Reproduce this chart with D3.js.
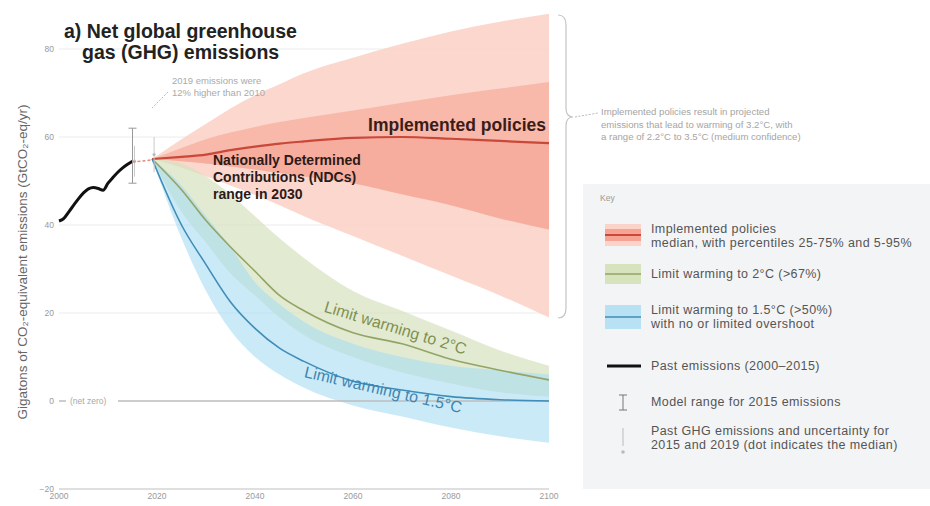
<!DOCTYPE html>
<html><head><meta charset="utf-8">
<script src="https://cdn.jsdelivr.net/npm/d3@7"></script>
<style>body{margin:0;background:#fff}svg{display:block;font-family:"Liberation Sans",Arial,sans-serif}</style>
</head><body><svg id="c" width="930" height="506"></svg>
<script>
// ---- data ----
const histYears = [2000,2001,2002,2003,2004,2005,2006,2007,2008,2009,2010,2011,2012,2013,2014,2015];
const histVals  = [40.9,41.5,43,44.5,46,47.3,48.2,48.5,48.3,47.9,49.5,50.8,52,53,53.8,54.5];
const scenYears = [2019,2025,2030,2035,2040,2045,2050,2060,2070,2080,2090,2100];
const impP5  = [55,53,51,49,46.8,44.5,42,37.5,33,28.5,24,19];
const impP25 = [55,54.5,54,53.3,52.6,51.8,51,49.5,47,44.5,41.5,39];
const impMed = [55,55.5,56,57,57.8,58.5,59,59.8,60,59.6,59.1,58.6];
const impP75 = [55,57.5,59.5,61,62.3,63.4,64.3,66,67.8,69.5,71,72.5];
const impP95 = [55,59.5,63,66.5,69.5,72,74.5,78,81.2,84,86.2,88];
const c2Upper = [55,54,51,47,42,37,32.5,25,20.5,16,11.5,8];
const c2Med   = [55,48,41,35,29.5,24,20.5,15.5,13,9.5,7,4.8];
const c2Lower = [55,43,36,29,24,19,15,10,6.5,4,2,1];
const c15Upper = [55,49,42,35,27,22,18,13,10,8,7,6];
const c15Med   = [55,40,31,22.5,16.5,12,9,4.5,2.5,1,0.3,0];
const c15Lower = [55,37,25,16,10,6,3,-1,-3.5,-6,-8,-9.5];
const yTicks = [-20,0,20,40,60,80];
const xTicks = [2000,2020,2040,2060,2080,2100];
const modelRange2015 = [49.5,62];
const pastUnc = [{year:2015,med:54.5,lo:51,hi:58},{year:2019,med:56,lo:52,hi:60}];

// ---- scales ----
const svg = d3.select("#c");
const x = d3.scaleLinear().domain([2000,2100]).range([59,549]);
const y = d3.scaleLinear().domain([-20,90]).range([489,5]);

const g = svg.append("g");
g.selectAll("line.grid").data(yTicks.filter(v=>v!==0)).join("line")
  .attr("x1",59).attr("x2",549).attr("y1",d=>y(d)).attr("y2",d=>y(d))
  .attr("stroke",d=>d===-20?"#d4d4d4":"#ececec").attr("stroke-width",d=>d===-20?1.5:1);
g.selectAll("text.yt").data(yTicks).join("text")
  .attr("x",54).attr("y",d=>y(d)+3).attr("text-anchor","end")
  .attr("font-size",8.5).attr("fill","#9a9a9a").text(d=>d<0?"\u2212"+Math.abs(d):d);
g.selectAll("text.xt").data(xTicks).join("text")
  .attr("x",d=>x(d)).attr("y",499).attr("text-anchor","middle")
  .attr("font-size",8.5).attr("fill","#9a9a9a").text(d=>d);
svg.append("text").attr("transform","translate(27,262) rotate(-90)").attr("text-anchor","middle")
  .attr("font-size",13.5).attr("fill","#666")
  .text("Gigatons of CO\u2082-equivalent emissions (GtCO\u2082-eq/yr)");

// ---- bands ----
const area = (lo,hi)=>d3.area().curve(d3.curveMonotoneX)
  .x((d,i)=>x(scenYears[i])).y0((d,i)=>y(lo[i])).y1((d,i)=>y(hi[i]))(scenYears);
const line = (vals,yrs)=>d3.line().curve(d3.curveMonotoneX)
  .x((d,i)=>x(yrs[i])).y((d,i)=>y(vals[i]))(yrs);

svg.append("path").attr("d",area(impP5,impP95)).attr("fill","#fbd0c5").attr("opacity",0.85);
svg.append("path").attr("d",area(impP25,impP75)).attr("fill","#f6ab9b").attr("opacity",0.7);
svg.append("path").attr("d",area(impP25,impMed)).attr("fill","#f3a090").attr("opacity",0.45);

svg.append("path").attr("d",area(c2Lower,c2Upper)).attr("fill","#d6e3bd").attr("opacity",0.7);
svg.append("path").attr("d",area(c15Lower,c15Upper)).attr("fill","#a9dcf2").attr("opacity",0.6);

svg.append("line").attr("x1",118).attr("x2",549).attr("y1",y(0)).attr("y2",y(0))
  .attr("stroke","#bdbdbd").attr("stroke-width",1.5);
svg.append("line").attr("x1",59).attr("x2",66).attr("y1",y(0)).attr("y2",y(0))
  .attr("stroke","#bdbdbd").attr("stroke-width",1.5);
svg.append("text").attr("x",70).attr("y",y(0)+3).attr("font-size",8.5).attr("fill","#a8a8a8").text("(net zero)");

svg.append("path").attr("d",line(c2Med,scenYears)).attr("fill","none").attr("stroke","#93a466").attr("stroke-width",1.6);
svg.append("path").attr("d",line(c15Med,scenYears)).attr("fill","none").attr("stroke","#3f8db8").attr("stroke-width",1.6);
svg.append("path").attr("d",line(impMed,scenYears)).attr("fill","none").attr("stroke","#c8483a").attr("stroke-width",2.2);

svg.append("path").attr("d",line(histVals,histYears)).attr("fill","none").attr("stroke","#111").attr("stroke-width",3).attr("stroke-linejoin","round");

const mr = svg.append("g").attr("stroke","#999").attr("stroke-width",1);
mr.append("line").attr("x1",x(2015)).attr("x2",x(2015)).attr("y1",y(modelRange2015[0])).attr("y2",y(modelRange2015[1]));
mr.append("line").attr("x1",x(2015)-4).attr("x2",x(2015)+4).attr("y1",y(modelRange2015[0])).attr("y2",y(modelRange2015[0]));
mr.append("line").attr("x1",x(2015)-4).attr("x2",x(2015)+4).attr("y1",y(modelRange2015[1])).attr("y2",y(modelRange2015[1]));
pastUnc.forEach(p=>{
  svg.append("line").attr("x1",x(p.year)+2).attr("x2",x(p.year)+2).attr("y1",y(p.lo)).attr("y2",y(p.hi)).attr("stroke","#c9c9c9").attr("stroke-width",1);
  svg.append("circle").attr("cx",x(p.year)+2).attr("cy",y(p.med)).attr("r",1.6).attr("fill","#bbb");
});
svg.append("line").attr("x1",x(2015)).attr("x2",x(2019)).attr("y1",y(54.3)).attr("y2",y(54.8))
  .attr("stroke","#e08a80").attr("stroke-width",1.5).attr("stroke-dasharray","3,2");

svg.append("text").attr("x",172).attr("y",84).attr("font-size",9.5).attr("fill","#aaa").text("2019 emissions were");
svg.append("text").attr("x",172).attr("y",96).attr("font-size",9.5).attr("fill","#aaa").text("12% higher than 2010");
svg.append("path").attr("d","M168,92 L152,108").attr("stroke","#bbb").attr("fill","none").attr("stroke-dasharray","2,1.5");

svg.append("text").attr("x",64).attr("y",38).attr("font-size",19.5).attr("font-weight","bold").attr("fill","#222").text("a) Net global greenhouse");
svg.append("text").attr("x",82).attr("y",59).attr("font-size",19.5).attr("font-weight","bold").attr("fill","#222").text("gas (GHG) emissions");

svg.append("text").attr("x",546).attr("y",131).attr("text-anchor","end").attr("font-size",17.5).attr("font-weight","600").attr("fill","#3b1c18").text("Implemented policies");
["Nationally Determined","Contributions (NDCs)","range in 2030"].forEach((t,i)=>
  svg.append("text").attr("x",213).attr("y",165+i*17).attr("font-size",14).attr("font-weight","bold").attr("fill","#2b1a18").text(t));
svg.append("text").attr("transform","translate(394,333) rotate(17)").attr("text-anchor","middle")
  .attr("font-size",16).attr("fill","#7f9050").text("Limit warming to 2\u00b0C");
svg.append("text").attr("transform","translate(382,395) rotate(13)").attr("text-anchor","middle")
  .attr("font-size",16).attr("fill","#3d86b3").text("Limit warming to 1.5\u00b0C");

svg.append("path").attr("d","M558,15 Q566,15 566,25 L566,108 Q566,117 573,117 Q566,117 566,126 L566,308 Q566,318 558,318")
  .attr("fill","none").attr("stroke","#c4c4c4").attr("stroke-width",1.2);
svg.append("path").attr("d","M575,117 L598,113").attr("stroke","#bbb").attr("stroke-dasharray","2,1.5");
["Implemented policies result in projected","emissions that lead to warming of 3.2\u00b0C, with","a range of 2.2\u00b0C to 3.5\u00b0C (medium confidence)"].forEach((t,i)=>
  svg.append("text").attr("x",601).attr("y",115+i*12.5).attr("font-size",9.6).attr("fill","#a5a5a5").text(t));

// ---- legend ----
const L = svg.append("g");
L.append("rect").attr("x",583).attr("y",184).attr("width",347).attr("height",305).attr("fill","#f3f4f6");
L.append("text").attr("x",600).attr("y",201).attr("font-size",8.5).attr("fill","#999").text("Key");
const lt = (xx,yy,t,c)=>L.append("text").attr("x",xx).attr("y",yy).attr("font-size",12.5).attr("letter-spacing",0.4).attr("fill",c||"#555").text(t);
L.append("rect").attr("x",605).attr("y",224).attr("width",36).attr("height",22).attr("fill","#fbd3c9");
L.append("rect").attr("x",605).attr("y",229).attr("width",36).attr("height",12).attr("fill","#f6a393");
L.append("line").attr("x1",605).attr("x2",641).attr("y1",235).attr("y2",235).attr("stroke","#c8483a").attr("stroke-width",2);
lt(651,233,"Implemented policies"); lt(651,247,"median, with percentiles 25-75% and 5-95%");
L.append("rect").attr("x",605).attr("y",264).attr("width",36).attr("height",20).attr("fill","#d6e3bd");
L.append("line").attr("x1",605).attr("x2",641).attr("y1",274).attr("y2",274).attr("stroke","#93a466").attr("stroke-width",1.6);
lt(651,278,"Limit warming to 2\u00b0C (>67%)");
L.append("rect").attr("x",605).attr("y",305).attr("width",36).attr("height",24).attr("fill","#b8e1f3");
L.append("line").attr("x1",605).attr("x2",641).attr("y1",317).attr("y2",317).attr("stroke","#3f8db8").attr("stroke-width",1.6);
lt(651,314,"Limit warming to 1.5\u00b0C (>50%)"); lt(651,328,"with no or limited overshoot");
L.append("line").attr("x1",607).attr("x2",641).attr("y1",366).attr("y2",366).attr("stroke","#111").attr("stroke-width",3);
lt(651,370,"Past emissions (2000\u20132015)");
L.append("line").attr("x1",623).attr("x2",623).attr("y1",395).attr("y2",410).attr("stroke","#777");
L.append("line").attr("x1",619).attr("x2",627).attr("y1",395).attr("y2",395).attr("stroke","#777");
L.append("line").attr("x1",619).attr("x2",627).attr("y1",410).attr("y2",410).attr("stroke","#777");
lt(651,406,"Model range for 2015 emissions");
L.append("line").attr("x1",623).attr("x2",623).attr("y1",428).attr("y2",446).attr("stroke","#bbb");
L.append("circle").attr("cx",623).attr("cy",452).attr("r",1.8).attr("fill","#bbb");
lt(651,435,"Past GHG emissions and uncertainty for"); lt(651,449,"2015 and 2019 (dot indicates the median)");
</script></body></html>
